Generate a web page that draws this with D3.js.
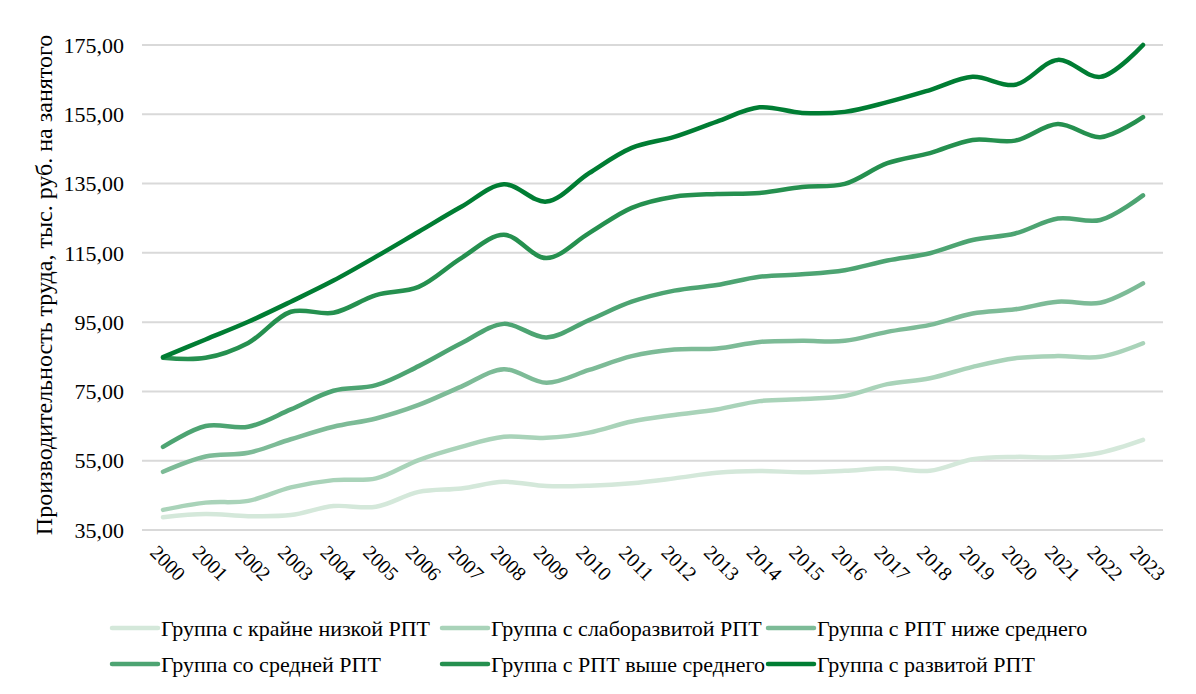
<!DOCTYPE html>
<html>
<head>
<meta charset="utf-8">
<script src="https://cdn.jsdelivr.net/npm/d3@7"></script>
<style>
  body { margin: 0; background: #fff; }
  svg text { font-family: "Liberation Serif", "Times New Roman", Times, serif; fill: #000; }
</style>
</head>
<body>
<script>
var years = [2000,2001,2002,2003,2004,2005,2006,2007,2008,2009,2010,2011,2012,2013,2014,2015,2016,2017,2018,2019,2020,2021,2022,2023];

var groupNames = ["Группа с крайне низкой РПТ", "Группа с слаборазвитой РПТ", "Группа с РПТ ниже среднего",
                  "Группа со средней РПТ", "Группа с РПТ выше среднего", "Группа с развитой РПТ"];

// values, thousand rubles per employed
var veryLow   = [38.7,39.6,39.0,39.3,41.9,41.7,46.0,47.0,48.9,47.7,47.8,48.5,49.9,51.5,52.0,51.7,52.1,52.8,52.1,55.4,56.1,56.0,57.3,61.0];
var weak      = [40.8,42.9,43.4,47.3,49.4,49.9,55.2,59.0,61.9,61.6,63.1,66.3,68.2,69.8,72.2,72.8,73.7,77.1,78.8,82.1,84.6,85.2,85.0,88.9];
var belowAvg  = [51.8,56.2,57.3,61.2,64.8,67.2,71.1,76.4,81.4,77.5,81.2,85.2,87.1,87.4,89.3,89.6,89.6,92.2,94.2,97.5,98.7,100.9,100.6,106.2];
var average   = [59.0,65.0,64.8,69.8,75.2,76.8,82.3,88.9,94.5,90.6,95.6,100.9,104.1,105.7,108.1,108.8,110.0,112.8,114.9,118.7,120.6,124.9,124.5,131.6];
var aboveAvg  = [84.7,84.7,89.0,98.0,97.7,102.8,105.2,113.5,120.2,113.5,120.7,128.0,131.2,132.0,132.3,134.0,134.9,140.9,143.8,147.6,147.4,152.2,148.4,154.2];
var developed = [84.9,90.0,95.1,100.9,107.0,113.9,121.1,128.3,134.8,129.8,138.0,145.3,148.5,152.9,157.0,155.4,155.7,158.5,162.0,165.8,163.5,170.7,165.8,175.0];

var seriesValues = [veryLow, weak, belowAvg, average, aboveAvg, developed];
var colors = ["#d4e8da", "#a9d3b9", "#7dbb97", "#4da472", "#25904f", "#007d33"];
var yTicks = [35,55,75,95,115,135,155,175];

var width = 1196, height = 694;
var svg = d3.select("body").append("svg")
    .attr("width", width)
    .attr("height", height);

var x = d3.scalePoint().domain(years).range([163, 1143]);
var y = d3.scaleLinear().domain([35, 175]).range([530, 45]);

// gridlines
svg.append("g").selectAll("line")
    .data(yTicks)
    .enter().append("line")
    .attr("x1", 142).attr("x2", 1163)
    .attr("y1", function (d) { return y(d); })
    .attr("y2", function (d) { return y(d); })
    .attr("stroke", "#d9d9d9")
    .attr("stroke-width", 2);

// y tick labels
svg.append("g").selectAll("text")
    .data(yTicks)
    .enter().append("text")
    .attr("x", 124)
    .attr("y", function (d) { return y(d); })
    .attr("dy", "0.35em")
    .attr("text-anchor", "end")
    .attr("font-size", 22)
    .text(function (d) { return d3.format(".2f")(d).replace(".", ","); });

// x tick labels, rotated
svg.append("g").selectAll("text")
    .data(years)
    .enter().append("text")
    .attr("transform", function (d) { return "translate(" + (x(d) + 5) + ",563) rotate(45)"; })
    .attr("text-anchor", "middle")
    .attr("dy", "0.35em")
    .attr("font-size", 20)
    .text(function (d) { return d; });

// y axis title
svg.append("text")
    .attr("transform", "translate(44,285) rotate(-90)")
    .attr("text-anchor", "middle")
    .attr("dy", "0.35em")
    .attr("font-size", 24)
    .text("Производительность труда, тыс. руб. на занятого");

var line = d3.line()
    .x(function (d, i) { return x(years[i]); })
    .y(function (d) { return y(d); })
    .curve(d3.curveCatmullRom.alpha(0.5));

svg.append("g").selectAll("path")
    .data(seriesValues)
    .enter().append("path")
    .attr("d", line)
    .attr("fill", "none")
    .attr("stroke", function (d, i) { return colors[i]; })
    .attr("stroke-width", 4.5)
    .attr("stroke-linecap", "round");

// legend, two rows of three
var legendX = [110, 440, 766];
var legendY = [628, 664];
var legend = svg.append("g").selectAll("g")
    .data(groupNames)
    .enter().append("g")
    .attr("transform", function (d, i) { return "translate(" + legendX[i % 3] + "," + legendY[Math.floor(i / 3)] + ")"; });

legend.append("line")
    .attr("x1", 2).attr("x2", 48)
    .attr("y1", 0).attr("y2", 0)
    .attr("stroke", function (d, i) { return colors[i]; })
    .attr("stroke-width", 4.5)
    .attr("stroke-linecap", "round");

legend.append("text")
    .attr("x", 51)
    .attr("y", 0)
    .attr("dy", "0.35em")
    .attr("font-size", 22)
    .text(function (d) { return d; });
</script>
</body>
</html>
